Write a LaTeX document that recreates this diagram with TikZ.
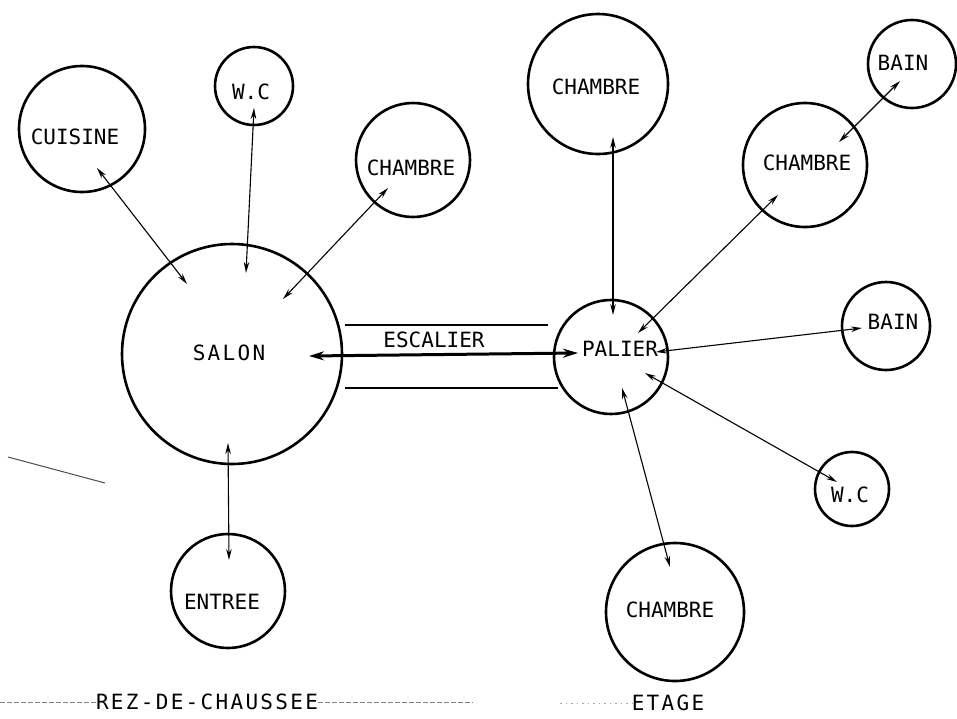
\documentclass[tikz,border=0pt]{standalone}
\usepackage{fontspec}
\usetikzlibrary{arrows.meta,calc}
\newfontfamily\plotfont{DejaVu Sans Mono}
\newfontfamily\plotfontsp[LetterSpace=11]{DejaVu Sans Mono}
\begin{document}
\begin{tikzpicture}[x=1pt,y=-1pt,
  room/.style={circle,draw=black,line width=2.6pt,inner sep=0pt,minimum size=#1},
  lbl/.style={inner sep=0pt,font=\plotfont\fontsize{21}{21}\selectfont},
  lblsp/.style={inner sep=0pt,font=\plotfontsp\fontsize{21}{21}\selectfont},
  link/.style={line width=1.1pt,{Stealth[length=11pt,width=5.5pt]}-{Stealth[length=11pt,width=5.5pt]}},
  stair/.style={line width=3pt,{Stealth[length=15pt,width=9pt]}-{Stealth[length=15pt,width=9pt]}},
  rail/.style={line width=1.5pt},
  base/.style={line width=0.8pt,gray,dash pattern=on 5pt off 2pt},
]
\useasboundingbox (0,0) rectangle (957,718);
\fill[white] (0,0) rectangle (957,718);

% rooms
\node[room=126pt] (cuisine) at (82,129) {};
\node[room=78pt]  (wc1) at (254,86) {};
\node[room=114pt] (chambre1) at (413,160) {};
\node[room=220pt] (salon) at (232,354) {};
\node[room=114pt] (entree) at (228,591) {};
\node[room=140pt] (chambre2) at (598,84) {};
\node[room=88pt]  (bain1) at (912,64) {};
\node[room=124pt] (chambre3) at (805,165) {};
\node[room=114pt] (palier) at (611,357) {};
\node[room=88pt]  (bain2) at (886,326) {};
\node[room=74pt]  (wc2) at (852,489) {};
\node[room=138pt] (chambre4) at (675,612) {};

% labels
\node[lbl] (cuisineT) at (75,137) {CUISINE};
\node[lbl] (wc1T) at (251,92) {W.C};
\node[lbl] (chambre1T) at (411,168) {CHAMBRE};
\node[lblsp] (salonT) at (229,353) {SALON};
\node[lbl] (entreeT) at (222,602) {ENTREE};
\node[lbl] (chambre2T) at (596,87) {CHAMBRE};
\node[lbl] (bain1T) at (903,63) {BAIN};
\node[lbl] (chambre3T) at (807,163) {CHAMBRE};
\node[lbl] (palierT) at (620,349) {PALIER};
\node[lbl] (bain2T) at (893,322) {BAIN};
\node[lbl] (wc2T) at (850,495) {W.C};
\node[lbl] (chambre4T) at (670,610) {CHAMBRE};
\node[lbl] (escalierT) at (434,340) {ESCALIER};

% connectors
\draw[link] ($(cuisine)+(15,39)$) -- ($(salon)+(-45,-70)$);
\draw[link] ($(wc1)+(0,22)$) -- ($(salon)+(14,-81)$);
\draw[link] ($(chambre1)+(-25,28)$) -- ($(salon)+(51,-55)$);
\draw[link] ($(salon)+(-4,89)$) -- ($(entree)+(1,-31)$);
\draw[stair] ($(salon)+(77,2)$) -- ($(palier)+(-33,-4)$);
\draw[link] ($(chambre2)+(15,53)$) -- ($(palier)+(2,-42)$);
\draw[link] ($(palier)+(27,-24)$) -- ($(chambre3)+(-27,30)$);
\draw[link] ($(chambre3)+(34,-23)$) -- ($(bain1)+(-12,17)$);
\draw[link] ($(palier)+(45,-5)$) -- ($(bain2)+(-24,2)$);
\draw[link] ($(palier)+(34,16)$) -- ($(wc2)+(-15,-7)$);
\draw[link] ($(palier)+(11,31)$) -- ($(chambre4)+(-5,-45)$);

% stair rails
\coordinate (r1a) at (345,325); \coordinate (r1b) at (548,325);
\coordinate (r2a) at (345,388); \coordinate (r2b) at (558,388);
\draw[rail] (r1a) -- (r1b);
\draw[rail] (r2a) -- (r2b);

% level captions
\node[lblsp] (rdc) at (207,702) {REZ-DE-CHAUSSEE};
\coordinate (d1) at (0,702); \coordinate (d2) at (473,702);
\draw[base] (d1) -- (rdc.west);
\draw[base] (rdc.east) -- (d2);
\node[lblsp] (etage) at (668,703) {ETAGE};
\coordinate (d3) at (560,703);
\draw[line width=0.6pt,gray!70,dash pattern=on 1.5pt off 4pt] (d3) -- (etage.west);

% stray mark
\coordinate (s1) at (8,457); \coordinate (s2) at (105,483);
\draw[line width=1pt,gray!60!black] (s1) -- (s2);
\end{tikzpicture}
\end{document}
